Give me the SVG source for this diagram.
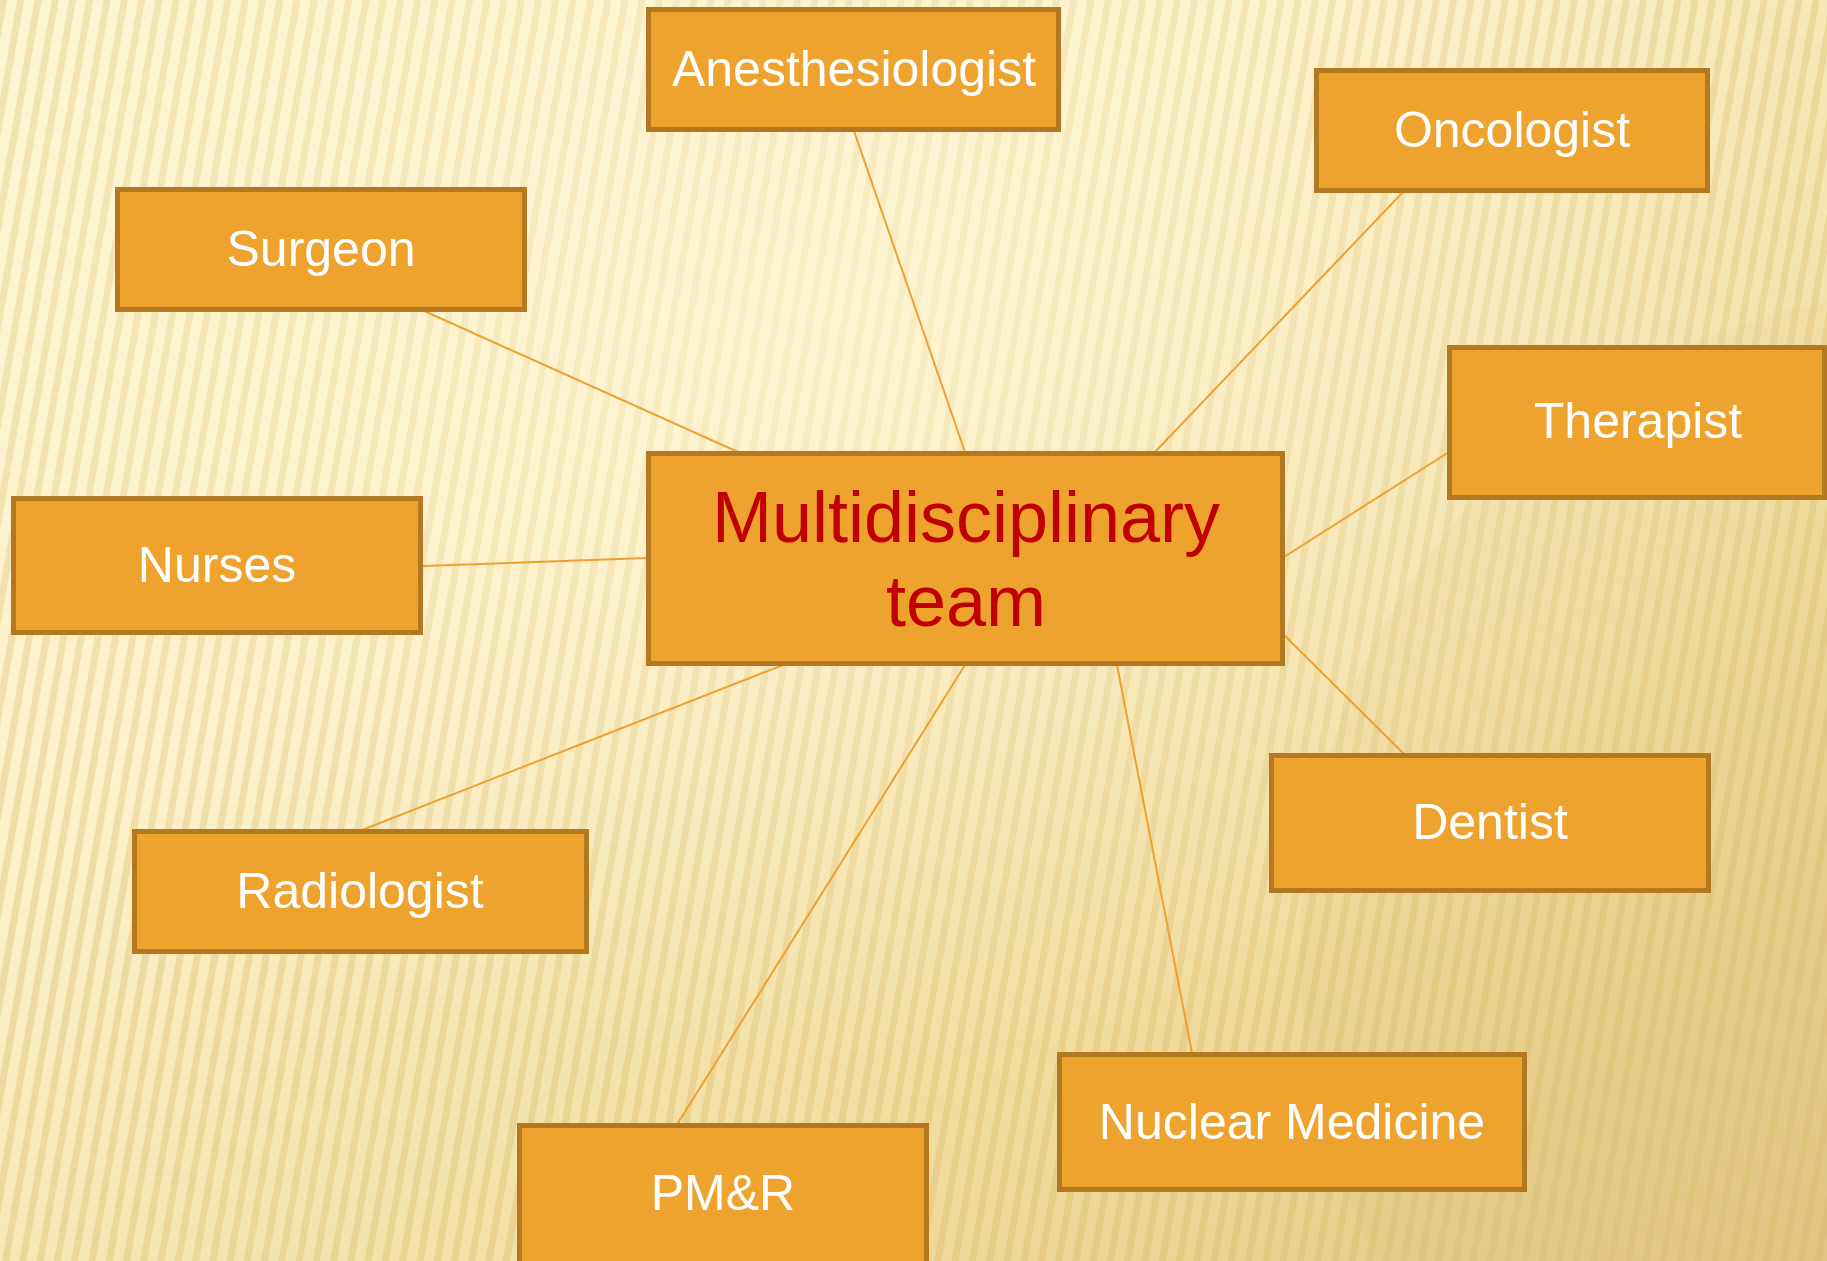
<svg xmlns="http://www.w3.org/2000/svg" width="1827" height="1261" viewBox="0 0 1827 1261">
  <defs>
    <linearGradient id="bg" x1="0" y1="0" x2="1" y2="1">
      <stop offset="0" stop-color="#FEF4D0"/>
      <stop offset="0.35" stop-color="#FCF0C6"/>
      <stop offset="0.7" stop-color="#F1DDA0"/>
      <stop offset="1" stop-color="#E2C682"/>
    </linearGradient>
    <radialGradient id="glow" cx="0.45" cy="0.25" r="0.6">
      <stop offset="0" stop-color="#FFF8DC" stop-opacity="0.6"/>
      <stop offset="1" stop-color="#FFF8DC" stop-opacity="0"/>
    </radialGradient>
    <pattern id="stripes" width="17" height="40" patternUnits="userSpaceOnUse" patternTransform="rotate(10)">
      <rect x="0" y="0" width="7" height="40" fill="#D6B462" opacity="0.3"/>
    </pattern>
    <style>
      .box { fill: #EEA32F; stroke: #B37820; stroke-width: 5; }
      .lbl { font-family: "Liberation Sans", Arial, sans-serif; font-size: 50px; fill: #FFFFFF; text-anchor: middle; }
      .main { font-family: "Liberation Sans", Arial, sans-serif; font-size: 72px; fill: #C00000; text-anchor: middle; }
      .conn line { stroke: #EFA02E; stroke-width: 2; }
    </style>
  </defs>

  <rect x="0" y="0" width="1827" height="1261" fill="url(#bg)"/>
  <rect x="0" y="0" width="1827" height="1261" fill="url(#stripes)"/>
  <rect x="0" y="0" width="1827" height="1261" fill="url(#glow)"/>
  <ellipse cx="1950" cy="950" rx="650" ry="660" fill="#D9BD74" opacity="0.1"/>

  <g id="connectors" class="conn">
    <line x1="854" y1="131" x2="965" y2="452"/>
    <line x1="1404" y1="191" x2="1155" y2="452"/>
    <line x1="422" y1="310" x2="738" y2="452"/>
    <line x1="1449" y1="452" x2="1284" y2="557"/>
    <line x1="423" y1="566" x2="647" y2="558"/>
    <line x1="1283" y1="634" x2="1404" y2="754"/>
    <line x1="362" y1="830" x2="783" y2="665"/>
    <line x1="678" y1="1123" x2="965" y2="665"/>
    <line x1="1192" y1="1053" x2="1117" y2="665"/>
  </g>

  <g id="node-anesthesiologist">
    <rect class="box" x="648.5" y="9.5" width="410" height="120"/>
    <text class="lbl" x="854" y="86">Anesthesiologist</text>
  </g>
  <g id="node-oncologist">
    <rect class="box" x="1316.5" y="70.5" width="391" height="120"/>
    <text class="lbl" x="1512" y="147">Oncologist</text>
  </g>
  <g id="node-surgeon">
    <rect class="box" x="117.5" y="189.5" width="407" height="120"/>
    <text class="lbl" x="321" y="266">Surgeon</text>
  </g>
  <g id="node-therapist">
    <rect class="box" x="1449.5" y="347.5" width="375" height="150"/>
    <text class="lbl" x="1638" y="438">Therapist</text>
  </g>
  <g id="node-center">
    <rect class="box" x="648.5" y="453.5" width="634" height="210"/>
    <text class="main" x="966" y="542">Multidisciplinary</text>
    <text class="main" x="966" y="626">team</text>
  </g>
  <g id="node-nurses">
    <rect class="box" x="13.5" y="498.5" width="407" height="134"/>
    <text class="lbl" x="217" y="582">Nurses</text>
  </g>
  <g id="node-dentist">
    <rect class="box" x="1271.5" y="755.5" width="437" height="135"/>
    <text class="lbl" x="1490" y="839">Dentist</text>
  </g>
  <g id="node-radiologist">
    <rect class="box" x="134.5" y="831.5" width="452" height="120"/>
    <text class="lbl" x="360" y="908">Radiologist</text>
  </g>
  <g id="node-nuclear-medicine">
    <rect class="box" x="1059.5" y="1054.5" width="465" height="135"/>
    <text class="lbl" x="1292" y="1139">Nuclear Medicine</text>
  </g>
  <g id="node-pmr">
    <rect class="box" x="519.5" y="1125.5" width="407" height="140"/>
    <text class="lbl" x="723" y="1210">PM&amp;R</text>
  </g>
</svg>
